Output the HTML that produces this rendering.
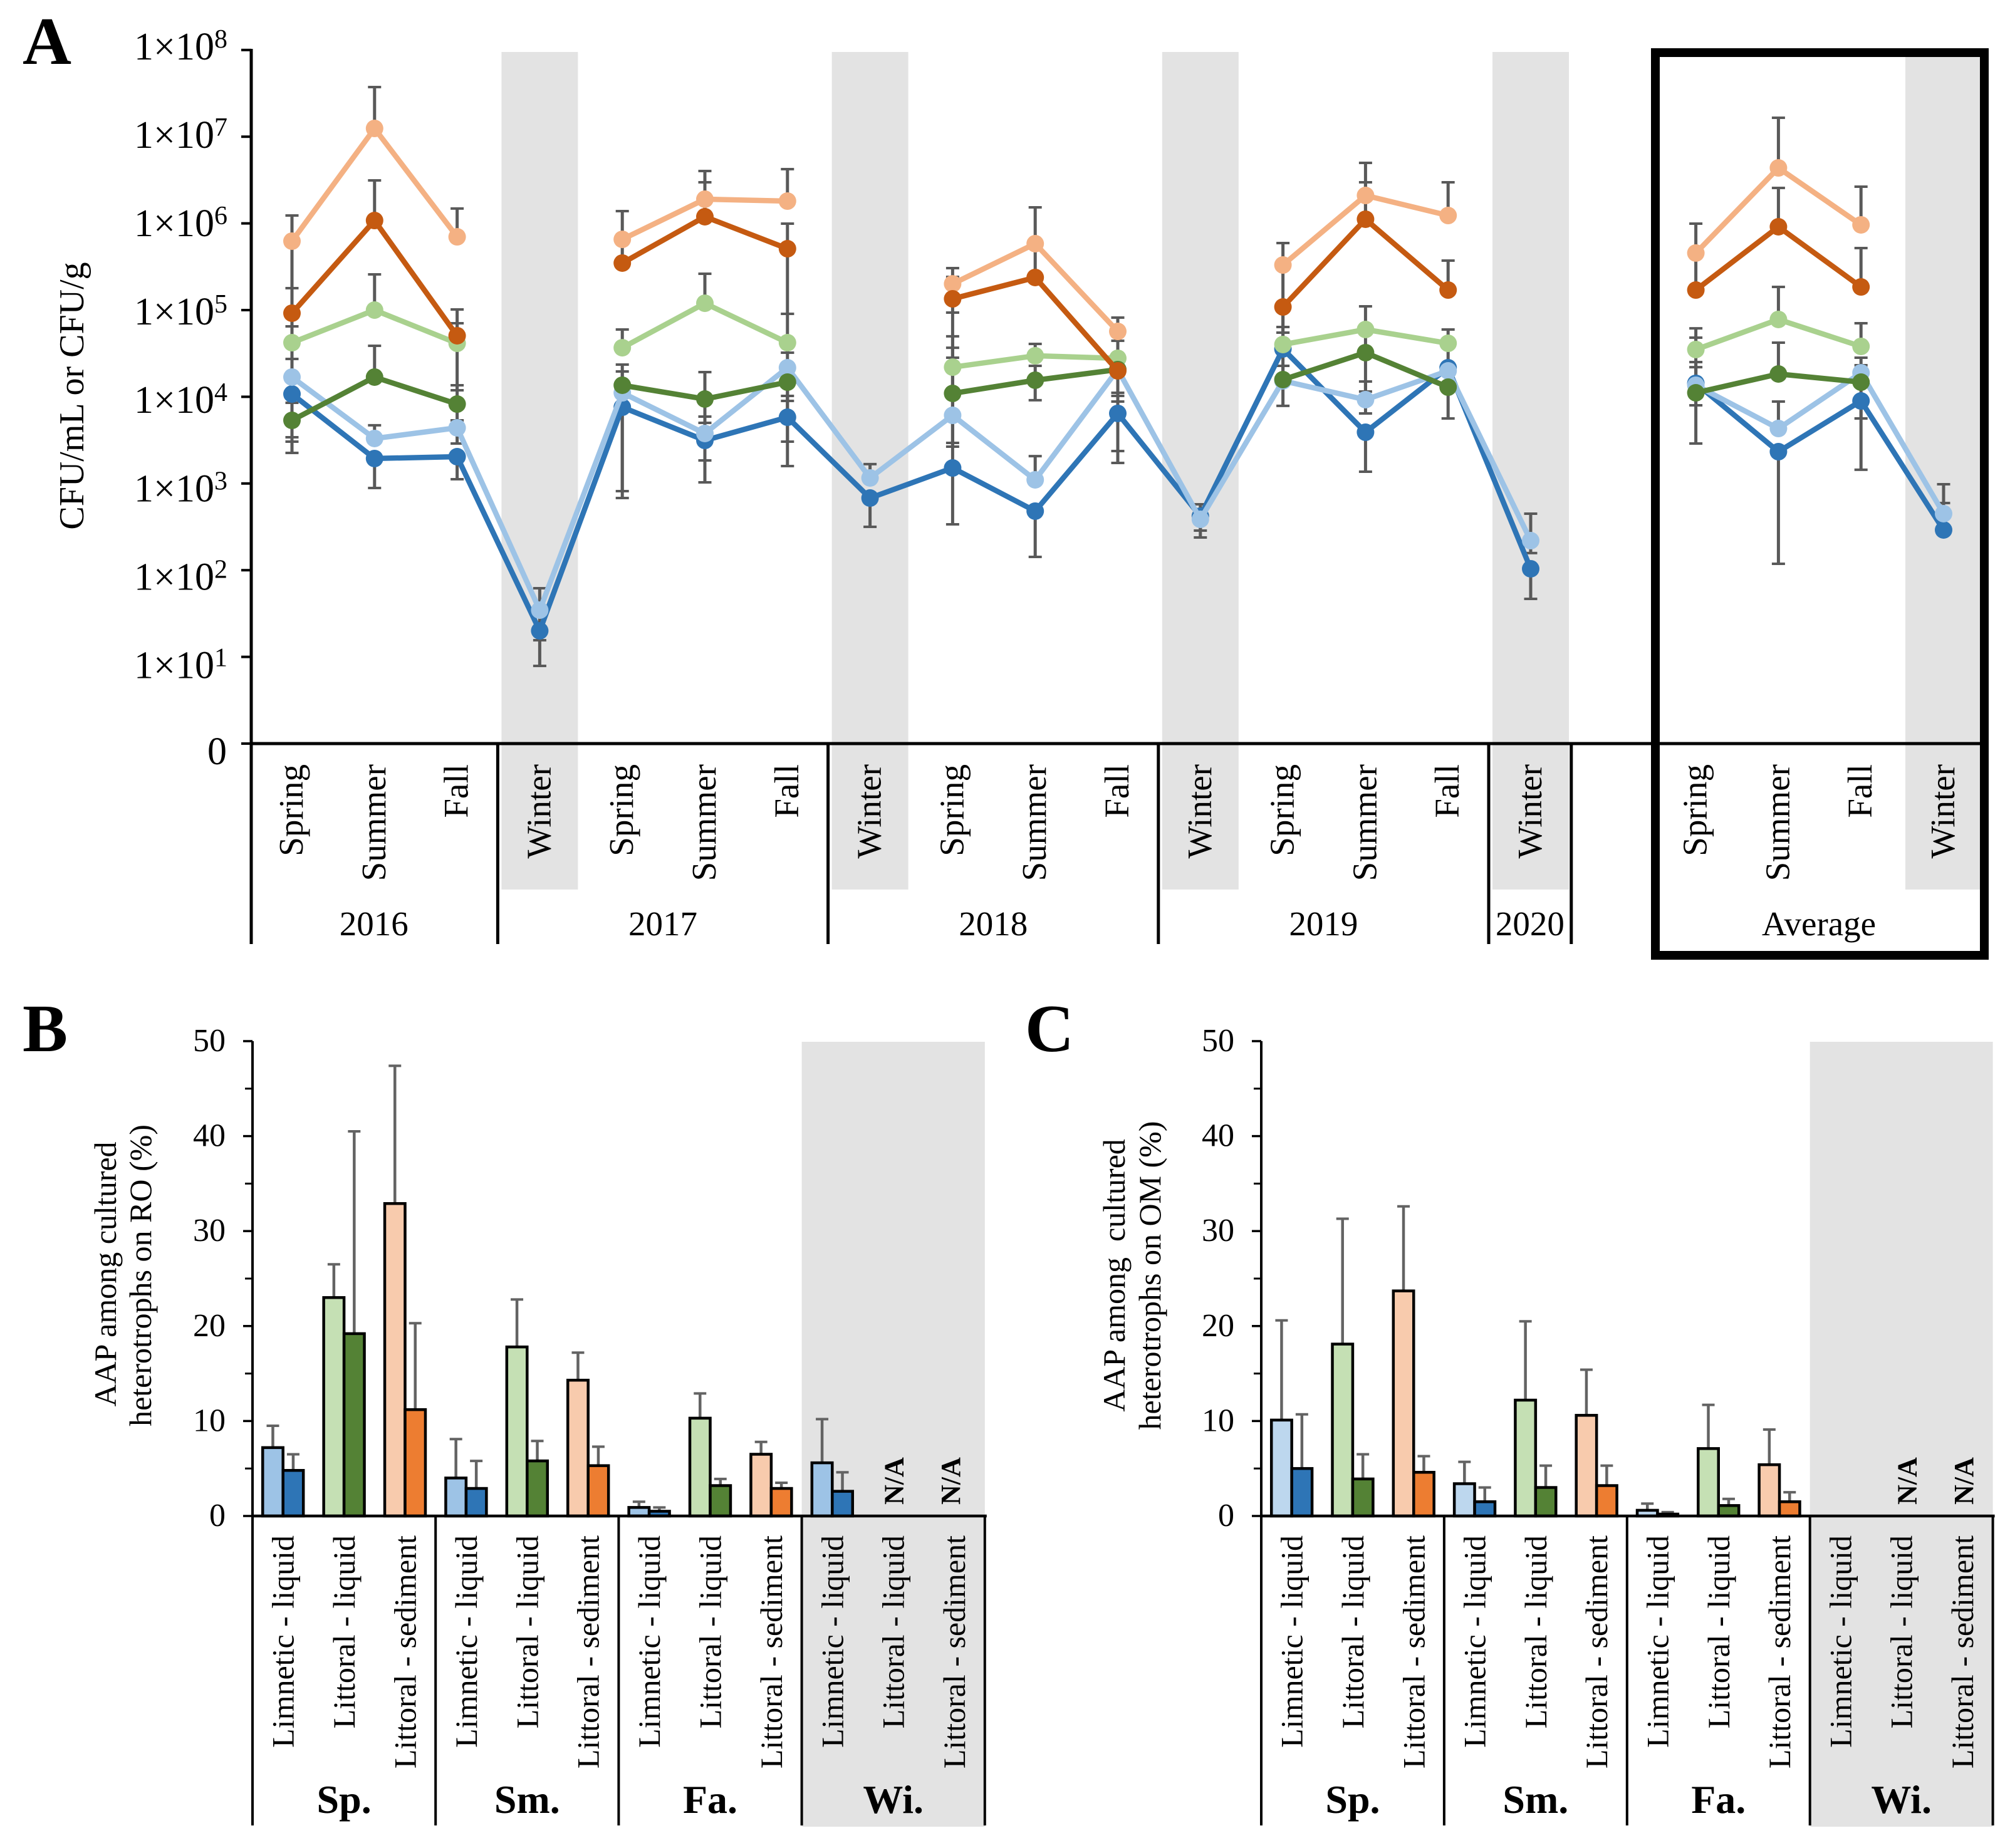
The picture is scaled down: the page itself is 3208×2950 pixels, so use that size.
<!DOCTYPE html>
<html lang="en">
<head>
<meta charset="utf-8">
<title>Culturable heterotroph counts and AAP proportions</title>
<style>
html,body{margin:0;padding:0;background:#fff}
svg{display:block;font-family:"Liberation Serif",serif;fill:#000}
</style>
</head>
<body>
<svg id="figure" xmlns="http://www.w3.org/2000/svg" width="3208" height="2950" viewBox="0 0 3208 2950">
  <rect x="0" y="0" width="3208" height="2950" fill="#fff"/>
  <g id="panelA">
    <text x="36" y="102" font-size="108" font-weight="bold">A</text>
    <text transform="rotate(-90 133 632)" x="133" y="632" font-size="56" text-anchor="middle">CFU/mL or CFU/g</text>
  </g>
  <g id="panelB">
    <text x="36" y="1678" font-size="108" font-weight="bold">B</text>
    <text transform="rotate(-90 185 2034)" x="185" y="2034" font-size="50" text-anchor="middle">AAP among cultured</text>
    <text transform="rotate(-90 241 2036)" x="241" y="2036" font-size="50" text-anchor="middle">heterotrophs on RO (%)</text>
  </g>
  <g id="panelC">
    <text x="1636" y="1678" font-size="108" font-weight="bold">C</text>
    <text transform="rotate(-90 1795 2036)" x="1795" y="2036" font-size="50" text-anchor="middle" xml:space="preserve">AAP among  cultured</text>
    <text transform="rotate(-90 1852 2036)" x="1852" y="2036" font-size="50" text-anchor="middle">heterotrophs on OM (%)</text>
  </g>
</svg>

<script>
/* ---------- Panel A data: log10(CFU/mL or CFU/g), null = not sampled ---------- */
const _ = null;
const seasonLabels = ['Spring','Summer','Fall','Winter','Spring','Summer','Fall','Winter','Spring','Summer','Fall','Winter','Spring','Summer','Fall','Winter','','Spring','Summer','Fall','Winter'];
const yearLabels = ['2016','2017','2018','2019','2020'];
const yearStarts = [0,3,7,11,15];
const yearEnds = [3,7,11,15,16];
const winterCategories = [3,7,11,15,20];
const logTickValues = [8,7,6,5,4,3,2,1];

const peachMean = [5.795,7.095,5.845,_,5.816,6.279,6.257,_,5.303,5.766,4.754,_,5.520,6.322,6.091,_,_,5.658,6.640,5.983,_];
const peachHigh = [6.091,7.572,6.171,_,6.142,6.604,6.626,_,5.484,6.185,4.913,_,5.773,6.698,6.474,_,_,5.997,7.218,6.423,_];
const peachLow  = [5.253,_,_,_,5.542,_,_,_,_,5.376,4.646,_,4.805,6.048,_,_,_,5.231,_,_,_];

const orangeMean = [4.964,6.033,4.704,_,5.542,6.077,5.708,_,5.130,5.376,4.299,_,5.036,6.048,5.231,_,_,5.231,5.961,5.267,_];
const orangeHigh = [5.253,6.496,5.007,_,_,6.474,5.997,_,5.383,_,4.646,_,_,6.474,5.571,_,_,_,6.409,5.715,_];
const orangeLow  = [4.812,_,_,_,_,_,4.957,_,4.971,_,4.046,_,4.740,_,_,_,_,_,_,_,_];

const lightGreenMean = [4.624,5.000,4.617,_,4.566,5.079,4.624,_,4.342,4.473,4.444,_,4.603,4.776,4.617,_,_,4.545,4.892,4.581,_];
const lightGreenHigh = [4.812,5.412,4.848,_,4.776,5.419,4.957,_,4.971,4.610,_,_,4.805,5.043,4.776,_,_,4.790,5.267,4.848,_];
const lightGreenLow  = [4.436,_,4.075,_,_,_,4.509,_,_,_,4.010,_,4.198,4.509,4.111,_,_,_,_,_,_];

const darkGreenMean = [3.728,4.227,3.916,_,4.133,3.974,4.169,_,4.039,4.191,4.314,_,4.198,4.509,4.111,_,_,4.046,4.263,4.169,_];
const darkGreenHigh = [4.436,4.588,4.133,_,4.371,4.285,_,_,4.697,4.357,_,_,_,_,_,_,_,4.682,4.624,4.451,_];
const darkGreenLow  = [3.483,_,3.728,_,_,3.699,3.952,_,3.468,3.960,3.945,_,3.895,3.808,3.750,_,_,3.902,_,_,_];

const lightBlueMean = [4.227,3.519,3.642,1.539,4.046,3.577,4.335,3.064,3.786,3.042,4.314,2.587,4.184,3.967,4.299,2.341,_,4.133,3.634,4.277,2.652];
const lightBlueHigh = [4.436,3.671,3.728,1.792,4.292,3.772,4.509,3.223,4.566,3.316,_,2.760,4.357,4.176,_,2.652,_,4.400,3.945,4.364,2.991];
const lightBlueLow  = [3.533,_,3.461,1.192,2.912,3.266,3.483,_,3.425,_,3.374,2.457,_,4.061,_,2.197,_,_,_,3.750,_];

const darkBlueMean = [4.032,3.288,3.309,1.301,3.880,3.497,3.764,2.832,3.179,2.681,3.808,2.623,4.552,3.591,4.335,2.016,_,4.155,3.367,3.952,2.464];
const darkBlueHigh = [3.931,_,_,_,_,_,4.010,_,4.451,_,_,_,4.740,_,_,_,_,4.342,_,_,2.775];
const darkBlueLow  = [3.353,2.948,3.049,0.896,2.832,3.013,3.201,2.500,2.529,2.153,3.237,2.377,_,3.136,_,1.669,_,3.461,2.074,3.158,_];

/* ---------- shared helpers ---------- */
const SVGNS = 'http://www.w3.org/2000/svg';
function mk(tag, parent, attrs, txt){
  const el = document.createElementNS(SVGNS, tag);
  for (const k in attrs) el.setAttribute(k, attrs[k]);
  if (txt !== undefined) el.textContent = txt;
  parent.appendChild(el);
  return el;
}
function namedLine(parent, name, x1, y1, x2, y2, color, width){
  const el = mk('line', parent, {x1:x1, y1:y1, x2:x2, y2:y2, stroke:color, 'stroke-width':width});
  
  
  return el;
}

/* ---------- Panel A drawing ---------- */
(function(){
  const root = document.getElementById('panelA');
  const xA = i => 466 + 131.8 * i;
  const yA = l => 1187 - 138.4 * l;
  const edge = i => xA(i) - 67;
  const lineSeries = [
    {name:'limnetic-liquid-ro', color:'#2e75b6', mean:darkBlueMean, hi:darkBlueHigh, lo:darkBlueLow},
    {name:'limnetic-liquid-om', color:'#9dc3e6', mean:lightBlueMean, hi:lightBlueHigh, lo:lightBlueLow},
    {name:'littoral-liquid-om', color:'#a9d18e', mean:lightGreenMean, hi:lightGreenHigh, lo:lightGreenLow},
    {name:'littoral-liquid-ro', color:'#548235', mean:darkGreenMean, hi:darkGreenHigh, lo:darkGreenLow},
    {name:'littoral-sediment-om', color:'#f4b183', mean:peachMean, hi:peachHigh, lo:peachLow},
    {name:'littoral-sediment-ro', color:'#c55a11', mean:orangeMean, hi:orangeHigh, lo:orangeLow}
  ];

  winterCategories.forEach(function(c){
    const band = mk('rect', root, {x:xA(c)-61, y:83, width:122, height:1337, fill:'#e3e3e3'});
    
    
  });

  const errGroup = mk('g', root, {});
  
  
  lineSeries.forEach(function(s){
    s.mean.forEach(function(v, i){
      if (v === null) return;
      const x = xA(i);
      const top = s.hi[i] === null ? v : s.hi[i];
      const bot = s.lo[i] === null ? v : s.lo[i];
      if (top !== bot) namedLine(errGroup, 'error-bar-stem', x, yA(top), x, yA(bot), '#595959', 5);
      if (s.hi[i] !== null) namedLine(errGroup, 'error-bar-cap', x-10.5, yA(top), x+10.5, yA(top), '#595959', 4);
      if (s.lo[i] !== null) namedLine(errGroup, 'error-bar-cap', x-10.5, yA(bot), x+10.5, yA(bot), '#595959', 4);
    });
  });

  lineSeries.forEach(function(s){
    const g = mk('g', root, {});
    
    
    let d = '', pen = false;
    s.mean.forEach(function(v, i){
      if (v === null) { pen = false; return; }
      d += (pen ? 'L' : 'M') + xA(i).toFixed(1) + ' ' + yA(v).toFixed(1);
      pen = true;
    });
    const path = mk('path', g, {d:d, fill:'none', stroke:s.color, 'stroke-width':8.5, 'stroke-linejoin':'round'});
    
    
    s.mean.forEach(function(v, i){
      if (v === null) return;
      const c = mk('circle', g, {cx:xA(i), cy:yA(v), r:14, fill:s.color});
      
      
    });
  });

  namedLine(root, 'y-axis-a', 401, 78, 401, 1507, '#000', 5);
  namedLine(root, 'x-axis-a', 399, 1187, 3165, 1187, '#000', 5);
  logTickValues.concat([0]).forEach(function(l){
    namedLine(root, 'y-tick', 385, yA(l), 401, yA(l), '#000', 4);
  });
  logTickValues.forEach(function(l){
    const t = mk('text', root, {x:363, y:yA(l) + 15 + (8 - l) * 2.7, 'font-size':62, 'text-anchor':'end'});
    
    
    mk('tspan', t, {}, '1×10');
    mk('tspan', t, {'font-size':42, dy:-19}, String(l));
  });
  const zero = mk('text', root, {x:362, y:1220, 'font-size':62, 'text-anchor':'end'}, '0');
  
  

  seasonLabels.forEach(function(s, i){
    if (!s) return;
    const x = xA(i) + 17;
    const t = mk('text', root, {x:x, y:1220, 'font-size':55, 'text-anchor':'end', transform:'rotate(-90 ' + x + ' 1220)'}, s);
    
    
  });
  yearLabels.forEach(function(y, k){
    const a = edge(yearStarts[k]), b = edge(yearEnds[k]);
    const t = mk('text', root, {x:(a + b) / 2, y:1493, 'font-size':55, 'text-anchor':'middle'}, y);
    
    
    namedLine(root, 'year-separator', b, 1187, b, 1507, '#000', 5);
  });
  const avg = mk('text', root, {x:2903, y:1493, 'font-size':55, 'text-anchor':'middle'}, 'Average');
  
  
  const box = mk('rect', root, {x:2642, y:84, width:525, height:1441, fill:'none', stroke:'#000', 'stroke-width':14});
  
  
})();
</script>

<script>
/* ---------- Panels B and C data: AAP share (%) ---------- */
const sampleLabels = ['Limnetic - liquid','Littoral - liquid','Littoral - sediment','Limnetic - liquid','Littoral - liquid','Littoral - sediment','Limnetic - liquid','Littoral - liquid','Littoral - sediment','Limnetic - liquid','Littoral - liquid','Littoral - sediment'];
const seasonGroups = ['Sp.','Sm.','Fa.','Wi.'];
const percentTicks = [0,10,20,30,40,50];
const percentMinorTicks = [5,15,25,35,45];
const naCategories = [10,11];

const roFirst   = [7.2,23.0,32.9,4.0,17.8,14.3,0.9,10.3,6.5,5.6,null,null];
const roSecond  = [4.8,19.2,11.2,2.9,5.8,5.3,0.5,3.2,2.9,2.6,null,null];
const roFirstErr  = [9.5,26.5,47.4,8.1,22.8,17.2,1.5,12.9,7.8,10.2,null,null];
const roSecondErr = [6.5,40.5,20.3,5.8,7.9,7.3,0.9,3.9,3.5,4.6,null,null];

const omFirst  = [10.1,18.1,23.7,3.4,12.2,10.6,0.6,7.1,5.4,null,null,null];
const omSecond = [5.0,3.9,4.6,1.5,3.0,3.2,0.2,1.1,1.5,null,null,null];
const omFirstErr  = [20.6,31.3,32.6,5.7,20.5,15.4,1.3,11.7,9.1,null,null,null];
const omSecondErr = [10.7,6.5,6.3,3.0,5.3,5.3,0.4,1.8,2.5,null,null,null];

function drawBarPanel(cfg){
  const root = document.getElementById(cfg.rootId);
  const x0 = cfg.x0, cw = cfg.catWidth;
  const bw = cw / 3;
  const y = v => 2420 - v * 15.16;
  const cx = i => x0 + cw * (i + 0.5);

  const band = mk('rect', root, {x:x0 + cw * 9, y:1663, width:cw * 3, height:1253, fill:'#e3e3e3'});
  
  

  cfg.first.forEach(function(v, i){
    const pair = cfg.colors[i % 3];
    [[v, cfg.firstErr[i], cx(i) - bw / 2, pair[0]], [cfg.second[i], cfg.secondErr[i], cx(i) + bw / 2, pair[1]]].forEach(function(b){
      if (b[0] === null) return;
      const ex = b[2];
      namedLine(root, 'error-bar-stem', ex, y(b[1]), ex, y(b[0]), '#636363', 4.5);
      namedLine(root, 'error-bar-cap', ex - 10, y(b[1]), ex + 10, y(b[1]), '#636363', 4);
      const r = mk('rect', root, {x:ex - bw / 2, y:y(b[0]), width:bw, height:2420 - y(b[0]), fill:b[3], stroke:'#000', 'stroke-width':4.5});
      
      
    });
  });

  const right = x0 + cw * 12;
  namedLine(root, 'y-axis', x0, 1662, x0, 2914, '#000', 4);
  namedLine(root, 'x-axis', x0 - 2, 2420, right + 3, 2420, '#000', 4.5);
  percentTicks.forEach(function(v){
    namedLine(root, 'y-tick', x0 - 15, y(v), x0, y(v), '#000', 3.5);
    const t = mk('text', root, {x:x0 - 43, y:y(v) + 16, 'font-size':52, 'text-anchor':'end'}, String(v));
    
    
  });
  percentMinorTicks.forEach(function(v){
    namedLine(root, 'y-minor-tick', x0 - 12, y(v), x0, y(v), '#000', 3);
  });
  sampleLabels.forEach(function(s, i){
    const x = cx(i) + 17;
    const t = mk('text', root, {x:x, y:2451, 'font-size':50, 'text-anchor':'end', transform:'rotate(-90 ' + x + ' 2451)'}, s);
    
    
  });
  seasonGroups.forEach(function(s, k){
    const sep = x0 + cw * 3 * (k + 1);
    namedLine(root, 'season-separator', sep, 2420, sep, 2914, '#000', 4);
    const t = mk('text', root, {x:x0 + cw * 3 * (k + 0.5), y:2894, 'font-size':64, 'font-weight':'bold', 'text-anchor':'middle'}, s);
    
    
  });
  naCategories.forEach(function(c, k){
    const x = cx(c) + cfg.naOffsets[k];
    const t = mk('text', root, {x:x, y:2402, 'font-size':44, 'font-weight':'bold', transform:'rotate(-90 ' + x + ' 2402)'}, 'N/A');
    
    
  });
}

drawBarPanel({rootId:'panelB', x0:403, catWidth:97.4, first:roFirst, second:roSecond, firstErr:roFirstErr, secondErr:roSecondErr, naOffsets:[16,9],
  colors:[['#9dc3e6','#2e75b6'],['#c5e0b4','#548235'],['#f8cbad','#ed7d31']]});
drawBarPanel({rootId:'panelC', x0:2013, catWidth:97.3, first:omFirst, second:omSecond, firstErr:omFirstErr, secondErr:omSecondErr, naOffsets:[24,17],
  colors:[['#bdd7ee','#2e75b6'],['#c5e0b4','#548235'],['#f8cbad','#ed7d31']]});
</script>
</body>
</html>
